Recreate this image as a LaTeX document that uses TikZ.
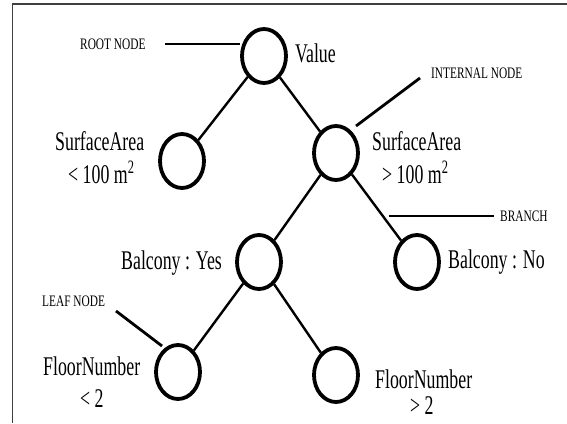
\documentclass[tikz,border=0pt]{standalone}
\usepackage{fontspec}
\setmainfont{Liberation Serif}
\usetikzlibrary{shapes.geometric}
\newcommand{\bigtxt}[1]{\scalebox{0.66}[1]{\fontsize{27}{27}\selectfont #1}}
\newcommand{\smalltxt}[1]{\scalebox{0.71}[1]{\fontsize{16}{16}\selectfont #1}}
\begin{document}
\begin{tikzpicture}[x=1pt,y=-1pt,
  treenode/.style={ellipse, draw, line width=3.8pt, minimum width=44pt, minimum height=54pt, inner sep=0pt},
  edge/.style={line width=2.4pt},
  pointer/.style={line width=2.8pt},
  lbl/.style={inner sep=0pt, anchor=base west}]
\useasboundingbox (0,0) rectangle (567,423);
% frame
\draw[line width=1.5pt, black!75] (12.5,423) -- (12.5,4) -- (567,4);
% tree nodes
\node[treenode] (root) at (264,56) {};
\node[treenode] (sa1) at (182,161) {};
\node[treenode] (sa2) at (336,153) {};
\node[treenode] (by) at (259,262) {};
\node[treenode] (bn) at (417,262) {};
\node[treenode] (f1) at (178,372) {};
\node[treenode] (f2) at (336,375) {};
% branches
\draw[edge] (root) -- (sa1);
\draw[edge] (root) -- (sa2);
\draw[edge] (sa2) -- (by);
\draw[edge] (sa2) -- (bn);
\draw[edge] (by) -- (f1);
\draw[edge] (by) -- (f2);
% pointer lines
\coordinate (rootA) at (165,44);
\coordinate (rootB) at (240,44);
\draw[pointer] (rootA) -- (rootB);
\coordinate (intA) at (356,126);
\coordinate (intB) at (420,78);
\draw[pointer] (intA) -- (intB);
\coordinate (brA) at (389,216);
\coordinate (brB) at (494,216);
\draw[pointer] (brA) -- (brB);
\coordinate (leafA) at (116,311);
\coordinate (leafB) at (162,346);
\draw[pointer] (leafA) -- (leafB);
% labels
\node[lbl] (tRoot) at (80,49) {\smalltxt{ROOT NODE}};
\node[lbl] (tValue) at (295,62) {\bigtxt{Value}};
\node[lbl] (tInt) at (431,78) {\smalltxt{INTERNAL NODE}};
\node[lbl] (tSAa) at (55,150) {\bigtxt{SurfaceArea}};
\node[lbl] (tSAb) at (68,183) {\bigtxt{< 100 m\textsuperscript{2}}};
\node[lbl] (tSBa) at (372,150) {\bigtxt{SurfaceArea}};
\node[lbl] (tSBb) at (382,183) {\bigtxt{> 100 m\textsuperscript{2}}};
\node[lbl] (tBr) at (500,221) {\smalltxt{BRANCH}};
\node[lbl] (tBY) at (121,269) {\bigtxt{Balcony : Yes}};
\node[lbl] (tBN) at (448,268) {\bigtxt{Balcony : No}};
\node[lbl] (tLeaf) at (42,306) {\smalltxt{LEAF NODE}};
\node[lbl] (tFAa) at (43,375) {\bigtxt{FloorNumber}};
\node[lbl] (tFAb) at (80,407) {\bigtxt{< 2}};
\node[lbl] (tFBa) at (375,388) {\bigtxt{FloorNumber}};
\node[lbl] (tFBb) at (410,414) {\bigtxt{> 2}};
\end{tikzpicture}
\end{document}
